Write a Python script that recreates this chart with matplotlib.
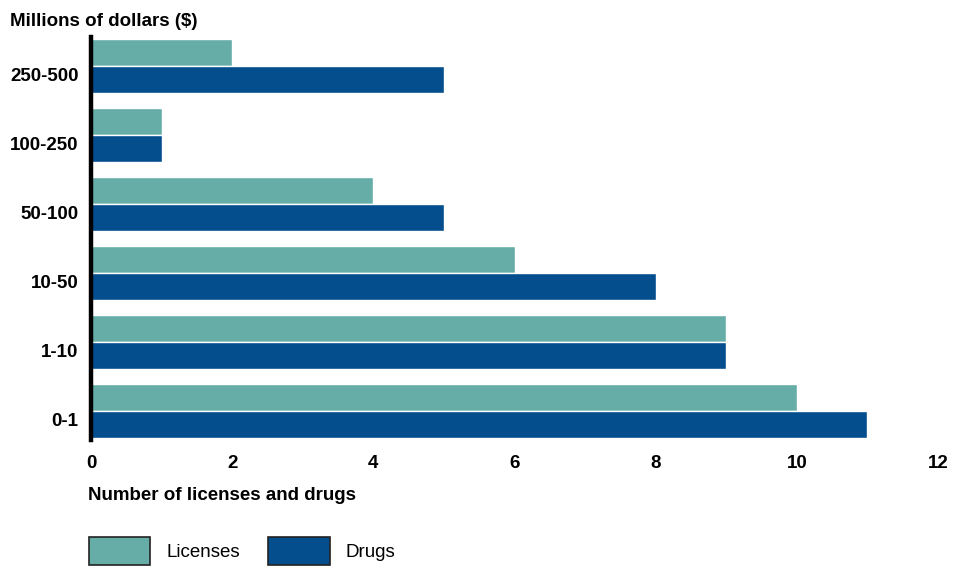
import matplotlib.pyplot as plt
import numpy as np

# Value ranges (bottom to top) and counts per range
ranges = ['0-1', '1-10', '10-50', '50-100', '100-250', '250-500']
licenses = [10, 9, 6, 4, 1, 2]
drugs = [11, 9, 8, 5, 1, 5]
x_ticks = [0, 2, 4, 6, 8, 10, 12]

teal = '#66ADA8'
navy = '#044E8E'

plt.rcParams['font.family'] = ['Liberation Sans', 'DejaVu Sans']

fig = plt.figure(figsize=(9.64, 5.68), dpi=100)
ax = fig.add_axes([91 / 964, 1 - 440 / 568, (938 - 91) / 964, (440 - 37) / 568])

y = np.arange(len(ranges))
h = 0.39
ax.barh(y + 0.2, licenses, height=h, color=teal, edgecolor='white',
        linewidth=1, label='Licenses')
ax.barh(y - 0.2, drugs, height=h, color=navy, edgecolor='white',
        linewidth=1, label='Drugs')

ax.set_xlim(0, 12)
ax.set_ylim(-0.42, 5.42)
ax.set_xticks(x_ticks)
ax.set_xticklabels([str(t) for t in x_ticks], fontsize=13.5, fontweight='bold')
# range labels sit a little below the middle of each pair
ax.set_yticks(y - 0.12)
ax.set_yticklabels(ranges, fontsize=13.5, fontweight='bold')
ax.tick_params(axis='x', length=0, pad=11)
ax.tick_params(axis='y', length=0, pad=9)

for side in ['top', 'right', 'bottom']:
    ax.spines[side].set_visible(False)
ax.spines['left'].set_linewidth(3.2)
ax.spines['left'].set_color('black')
ax.spines['left'].set_zorder(5)

fig.text(10 / 964, 1 - 21 / 568, 'Millions of dollars ($)', fontsize=13.5,
         fontweight='bold', ha='left', va='center')
fig.text(88 / 964, 1 - 496 / 568, 'Number of licenses and drugs', fontsize=13.5,
         fontweight='bold', ha='left', va='center')

leg = ax.legend(loc='center left', bbox_to_anchor=(81 / 964, 1 - 551 / 568),
                bbox_transform=fig.transFigure, ncol=2, frameon=False,
                fontsize=13.5, handlelength=3.3, handleheight=1.9,
                handletextpad=0.85, columnspacing=1.5, borderaxespad=0)
for patch in leg.get_patches():
    patch.set_edgecolor('#222222')
    patch.set_linewidth(1.2)

fig.savefig('out.png', dpi=100, facecolor='white')
